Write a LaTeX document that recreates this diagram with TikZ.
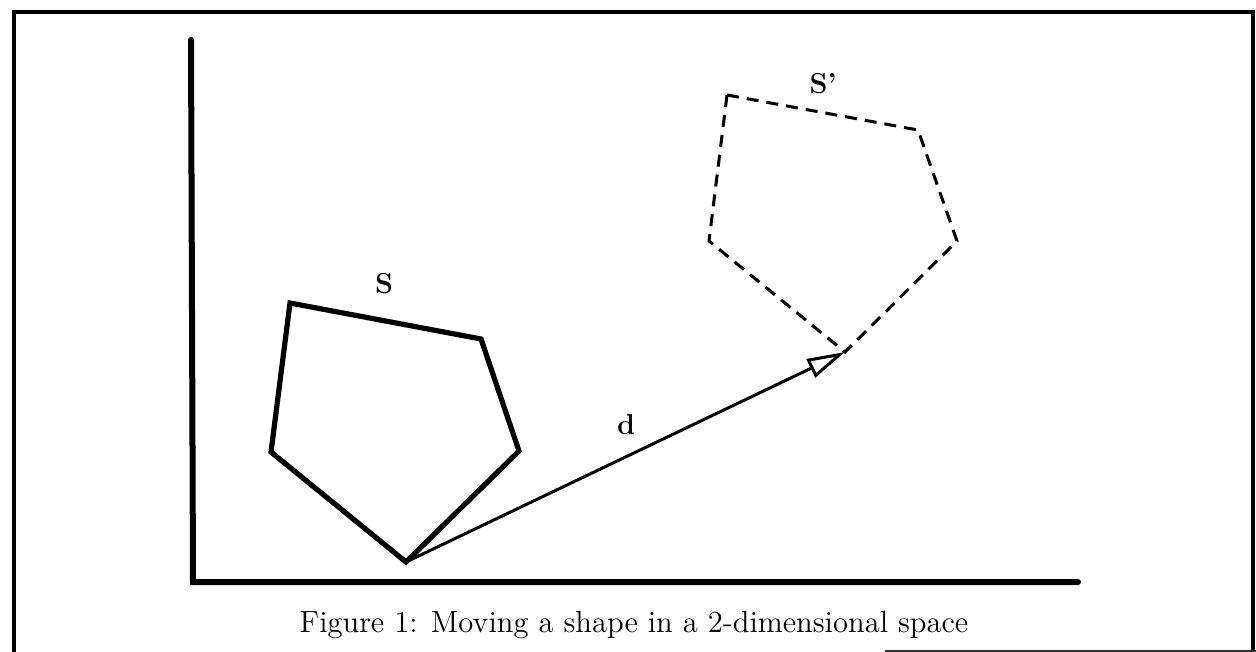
\documentclass[tikz,border=0pt]{standalone}
\usetikzlibrary{arrows.meta}
\begin{document}
\begin{tikzpicture}[x=0.5pt,y=-0.5pt,
  frameline/.style={line width=2pt},
  axisline/.style={line width=3pt},
  solidshape/.style={line width=2.6pt,line join=miter},
  dashshape/.style={line width=1.5pt,dash pattern=on 6pt off 4pt},
  vec/.style={line width=1.5pt,-{Triangle[open,length=19pt,width=10pt,line width=1.5pt]}},
  lbl/.style={font=\fontsize{12}{14}\selectfont\bfseries,inner sep=0pt,scale=1.2},
  captiontext/.style={font=\fontsize{12}{14}\selectfont,inner sep=0pt,scale=1.277}]
\useasboundingbox (0,0) rectangle (1256,652);
% frame
\draw[frameline] (14,660) -- (14,12) -- (1253,12) -- (1253,651);
\draw[line width=0.7pt,black!80] (885,651) -- (1256,651);
% axes
\coordinate (ytop) at (191,40);
\coordinate (origin) at (193,582);
\coordinate (xend) at (1078,582);
\draw[axisline,line cap=round] (ytop) -- (origin) -- (xend);
% shape S
\coordinate (s1) at (290,303);
\coordinate (s2) at (481,339);
\coordinate (s3) at (519,451);
\coordinate (s4) at (406,562);
\coordinate (s5) at (271,452);
\draw[solidshape] (s1) -- (s2) -- (s3) -- (s4) -- (s5) -- cycle;
% shape S'
\coordinate (t1) at (727,95);
\coordinate (t2) at (918,130);
\coordinate (t3) at (957,241);
\coordinate (t4) at (845,352);
\coordinate (t5) at (709,241);
\draw[dashshape] (t1) -- (t2) -- (t3) -- (t4) -- (t5) -- cycle;
% displacement vector
\draw[vec] (s4) -- (t4);
% labels
\node[lbl] (labS) at (384,284) {S};
\node[lbl] (labSp) at (823,84) {S'};
\node[lbl] (labd) at (626,425) {d};
\node[captiontext] (caption) at (634,625) {Figure 1: Moving a shape in a 2-dimensional space};
\end{tikzpicture}
\end{document}
